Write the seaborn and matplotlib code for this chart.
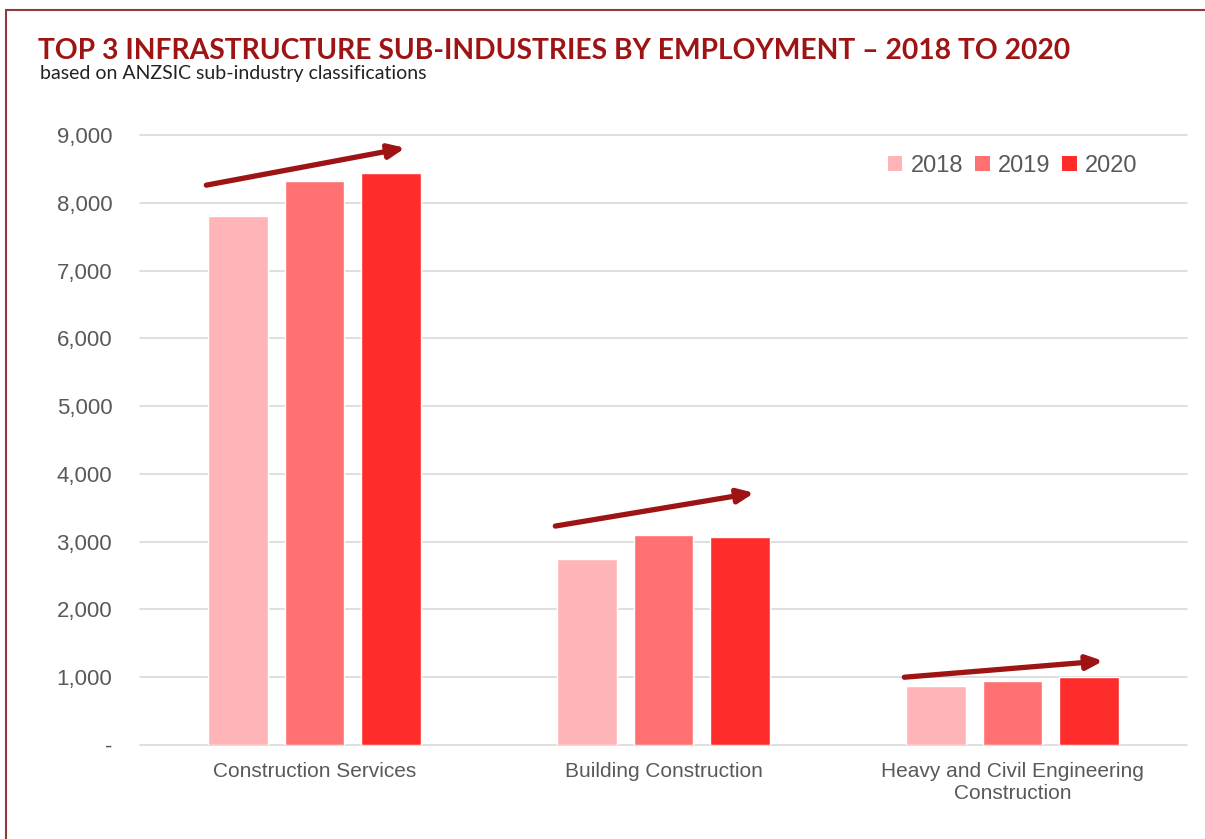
import pandas as pd
import seaborn as sns
import matplotlib.pyplot as plt
from matplotlib.lines import Line2D
from matplotlib.patches import Patch

# data
categories = ['Construction Services', 'Building Construction',
              'Heavy and Civil Engineering\nConstruction']
years = ['2018', '2019', '2020']
jobs_2018 = [7805, 2745, 870]
jobs_2019 = [8320, 3100, 945]
jobs_2020 = [8440, 3070, 1005]
y_ticks = [0, 1000, 2000, 3000, 4000, 5000, 6000, 7000, 8000, 9000]
y_tick_labels = ['-', '1,000', '2,000', '3,000', '4,000', '5,000',
                 '6,000', '7,000', '8,000', '9,000']
# trend arrows: (start value, end value) per category
trend_arrows = [(8260, 8810), (3230, 3720), (1000, 1240)]

year_colors = ['#FFB5B7', '#FF7171', '#FF2C2C']
grey = '#595959'
dark_red = '#9E1414'

df = pd.DataFrame({
    'category': categories * 3,
    'year': [y for y in years for _ in categories],
    'jobs': jobs_2018 + jobs_2019 + jobs_2020,
})

sns.set_theme(style='white')
plt.rcParams['font.family'] = ['Liberation Sans', 'DejaVu Sans']

fig = plt.figure(figsize=(12.05, 8.39), dpi=100)
ax = fig.add_axes([140 / 1205, 1 - 745 / 839, 1047 / 1205, 610 / 839])

sns.barplot(data=df, x='category', y='jobs', hue='year', palette=year_colors,
            width=0.66, gap=0.22, saturation=1, legend=False, ax=ax)

ax.set_xlim(-0.5, 2.5)
ax.set_ylim(0, 9000)
ax.set_yticks(y_ticks)
ax.set_yticklabels(y_tick_labels)
ax.yaxis.grid(True, color='#D9D9D9', linewidth=1.2, clip_on=False)
ax.set_axisbelow(True)
for s in ax.spines.values():
    s.set_visible(False)
ax.tick_params(axis='x', length=0, colors=grey, labelsize=15, pad=12)
ax.tick_params(axis='y', length=0, colors=grey, labelsize=16, pad=20)
ax.set_xlabel('')
ax.set_ylabel('')

for i, (y0, y1) in enumerate(trend_arrows):
    ax.annotate('', xy=(i + 0.26, y1), xytext=(i - 0.31, y0),
                arrowprops=dict(arrowstyle='-|>,head_length=0.8,head_width=0.35',
                                color=dark_red, lw=3.8, shrinkA=0, shrinkB=0))

handles = [Patch(facecolor=c, edgecolor='none') for c in year_colors]
leg = ax.legend(handles, years, ncol=3, frameon=False, loc='center right',
                bbox_to_anchor=(0.973, 0.949), fontsize=17, handlelength=0.62,
                handleheight=0.62, handletextpad=0.35, columnspacing=0.5)
for t in leg.get_texts():
    t.set_color(grey)

fig.text(38 / 1205, 1 - 59 / 839, 'TOP 3 INFRASTRUCTURE SUB-INDUSTRIES BY EMPLOYMENT – 2018 TO 2020',
         family=['Lato', 'DejaVu Sans'], fontweight='bold',
         fontsize=20.3, color=dark_red, va='baseline')
fig.text(40 / 1205, 1 - 79 / 839, 'based on ANZSIC sub-industry classifications',
         family=['Lato', 'DejaVu Sans'], fontsize=14,
         color='#222222', va='baseline')

# frame of the original slide
fig.add_artist(Line2D([6 / 1205, 1], [1 - 10 / 839, 1 - 10 / 839],
                      color='#8E3B3B', lw=1.5, transform=fig.transFigure))
fig.add_artist(Line2D([6 / 1205, 6 / 1205], [0, 1 - 10 / 839],
                      color='#8E3B3B', lw=1.5, transform=fig.transFigure))

fig.savefig('out.png', dpi=100, facecolor='white')
